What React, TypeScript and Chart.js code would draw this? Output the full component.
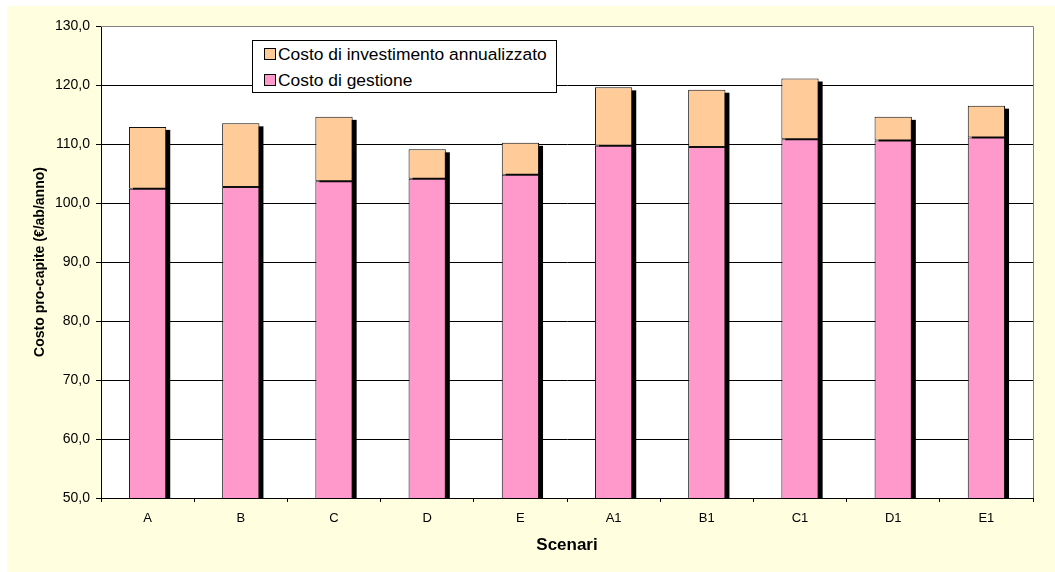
import React, { useEffect, useRef } from 'react';
import { Chart, registerables } from 'chart.js';

Chart.register(...registerables);

const categories = ['A', 'B', 'C', 'D', 'E', 'A1', 'B1', 'C1', 'D1', 'E1'];
const costoGestione = [102.4, 102.7, 103.7, 104.1, 104.8, 109.7, 109.5, 110.8, 110.6, 111.1];
const costoInvestimento = [10.5, 10.8, 10.9, 5.0, 5.4, 9.9, 9.7, 10.3, 4.0, 5.4];
const yMin = 50;
const yMax = 130;
const yStep = 10;
const seriesLabels = ['Costo di gestione', 'Costo di investimento annualizzato'];
const xTitle = 'Scenari';
const yTitle = 'Costo pro-capite (€/ab/anno)';

const FONT = "'Liberation Sans', Arial, sans-serif";
const PINK = '#FF99CC';
const PEACH = '#FFCC99';
const BG = '#FFFFE0';

const backgroundPlugin = {
  id: 'bgPlugin',
  beforeDraw(chart: any) {
    const { ctx, chartArea, width, height } = chart;
    ctx.save();
    ctx.fillStyle = '#FFFFFF';
    ctx.fillRect(0, 0, width, height);
    ctx.fillStyle = BG;
    ctx.fillRect(7, 6, width - 7, height - 6);
    ctx.fillStyle = '#FFFFFF';
    ctx.fillRect(chartArea.left, chartArea.top, chartArea.right - chartArea.left, chartArea.bottom - chartArea.top);
    ctx.restore();
  },
};

const shadowPlugin = {
  id: 'barShadow',
  beforeDatasetsDraw(chart: any) {
    const { ctx, chartArea } = chart;
    const m0 = chart.getDatasetMeta(0);
    const m1 = chart.getDatasetMeta(1);
    ctx.save();
    ctx.strokeStyle = '#808080';
    ctx.lineWidth = 1;
    ctx.beginPath();
    ctx.moveTo(chartArea.left, Math.round(chartArea.top) + 0.5);
    ctx.lineTo(Math.round(chartArea.right) + 0.5, Math.round(chartArea.top) + 0.5);
    ctx.lineTo(Math.round(chartArea.right) + 0.5, chartArea.bottom);
    ctx.stroke();
    ctx.beginPath();
    ctx.rect(chartArea.left, chartArea.top, chartArea.right - chartArea.left, chartArea.bottom - chartArea.top);
    ctx.clip();
    ctx.fillStyle = '#000000';
    m1.data.forEach((bar: any, i: number) => {
      const p = bar.getProps(['x', 'y', 'width'], true);
      const b = m0.data[i].getProps(['base'], true);
      ctx.fillRect(p.x - p.width / 2 + 4, p.y + 3, p.width, b.base - p.y);
    });
    ctx.restore();
  },
};

export default function App() {
  const canvasRef = useRef<HTMLCanvasElement | null>(null);

  useEffect(() => {
    if (!canvasRef.current) return;
    const chart = new Chart(canvasRef.current, {
      type: 'bar',
      data: {
        labels: categories,
        datasets: [
          {
            label: seriesLabels[0],
            data: costoGestione,
            backgroundColor: PINK,
            borderColor: '#111111',
            borderWidth: 1,
            borderSkipped: false,
            barPercentage: 0.4,
            categoryPercentage: 1,
          },
          {
            label: seriesLabels[1],
            data: costoInvestimento,
            backgroundColor: PEACH,
            borderColor: '#111111',
            borderWidth: 1,
            borderSkipped: false,
            barPercentage: 0.4,
            categoryPercentage: 1,
          },
        ],
      },
      options: {
        animation: false,
        responsive: false,
        maintainAspectRatio: false,
        layout: { padding: { left: 0, right: 22, top: 26, bottom: 0 } },
        plugins: {
          legend: { display: false },
          tooltip: { enabled: false },
        },
        scales: {
          x: {
            stacked: true,
            offset: true,
            grid: { offset: true, drawOnChartArea: false, drawTicks: true, tickLength: 4, color: '#000', tickColor: '#000' },
            border: { display: true, color: '#000', width: 1 },
            ticks: { color: '#000', font: { family: FONT, size: 13 }, padding: 9, maxRotation: 0, autoSkip: false },
            title: { display: true, text: xTitle, color: '#000', font: { family: FONT, size: 17, weight: 'bold' }, padding: { top: 0, bottom: 16 } },
            afterFit(scale: any) { scale.height = 74; },
          },
          y: {
            stacked: true,
            min: yMin,
            max: yMax,
            ticks: {
              stepSize: yStep,
              color: '#000',
              font: { family: FONT, size: 14 },
              padding: 6,
              callback: (v: any) => Number(v).toFixed(1).replace('.', ','),
            },
            grid: {
              color: (c: any) => (c.tick && c.tick.value === yMax ? '#808080' : '#000'),
              tickColor: '#000',
              tickLength: 5,
              drawTicks: true,
            },
            border: { display: true, color: '#000', width: 1 },
            title: { display: true, text: yTitle, color: '#000', font: { family: FONT, size: 14, weight: 'bold' }, padding: { top: 32, bottom: 0 } },
            afterFit(scale: any) { scale.width = 101; },
          },
        },
      },
      plugins: [backgroundPlugin, shadowPlugin],
    } as any);
    return () => chart.destroy();
  }, []);

  const swatch = (color: string, top: number) => (
    <div style={{ position: 'absolute', left: 11, top, width: 10, height: 10, background: color, border: '1px solid #000' }} />
  );
  const text = (t: string, top: number) => (
    <div style={{ position: 'absolute', left: 25, top, fontFamily: FONT, fontSize: 17.4, lineHeight: '20px', color: '#000', whiteSpace: 'nowrap' }}>{t}</div>
  );

  return (
    <div style={{ position: 'fixed', left: 0, top: 0, width: 1055, height: 572, background: '#fff' }}>
      <canvas ref={canvasRef} width={1055} height={572} style={{ display: 'block', width: 1055, height: 572 }} />
      <div style={{ position: 'absolute', left: 252, top: 40, width: 305, height: 53, boxSizing: 'border-box', border: '1px solid #000', background: '#fff' }}>
        {swatch(PEACH, 7)}
        {text(seriesLabels[1], 3)}
        {swatch(PINK, 33)}
        {text(seriesLabels[0], 29)}
      </div>
    </div>
  );
}
